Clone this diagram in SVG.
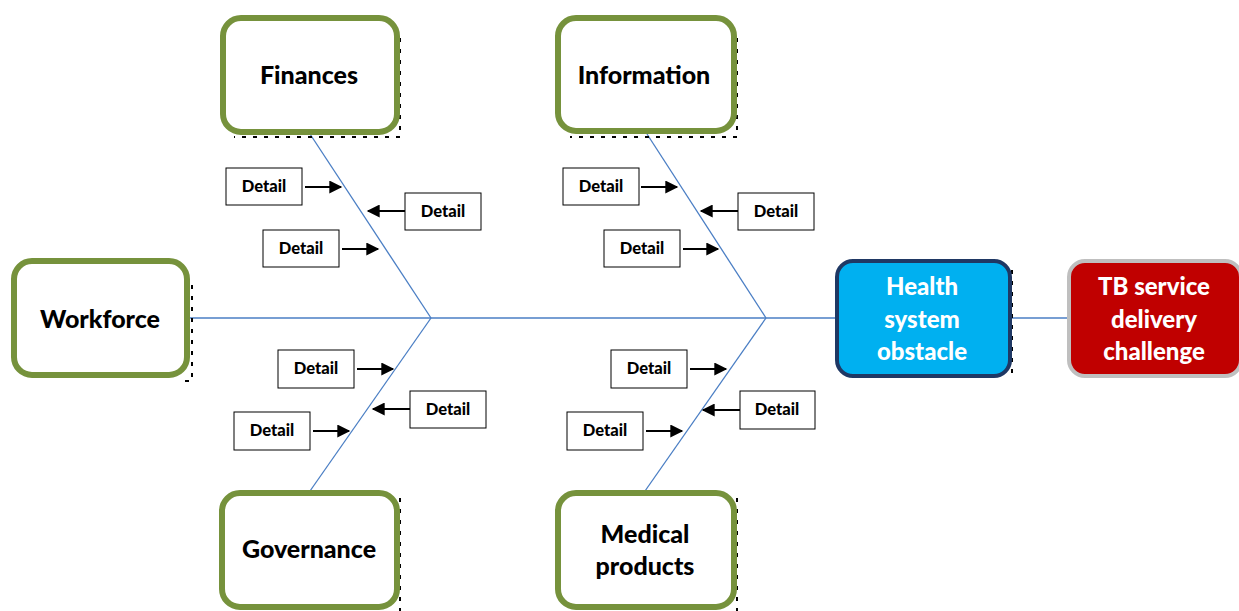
<svg xmlns="http://www.w3.org/2000/svg" width="1239" height="611" viewBox="0 0 1239 611">
  <defs>
    <marker id="arrow" viewBox="0 0 10 10" refX="9" refY="5" markerWidth="7" markerHeight="6.5" orient="auto" markerUnits="strokeWidth">
      <path d="M0,0 L10,5 L0,10 z" fill="#000"/>
    </marker>
    <style>
      .cat { fill: #fff; stroke: #76923C; stroke-width: 6; }
      .handles { fill: none; stroke: #000; stroke-width: 2; stroke-dasharray: 4 7; }
      .bone { stroke: #4A7EC4; stroke-width: 1.3; fill: none; }
      .det { fill: #fff; stroke: #000; stroke-width: 1; }
      .dt { font-family: Lato, "Liberation Sans", sans-serif; font-weight: 900; font-size: 16.5px; fill: #000; text-anchor: middle; }
      .ct { font-family: Lato, "Liberation Sans", sans-serif; font-weight: 900; font-size: 25px; fill: #000; text-anchor: middle; }
      .wt { font-family: Lato, "Liberation Sans", sans-serif; font-weight: 900; font-size: 24px; fill: #fff; text-anchor: middle; }
      .arr { stroke: #000; stroke-width: 2; marker-end: url(#arrow); }
    </style>
  </defs>
  <rect width="1239" height="611" fill="#fff"/>

  <!-- spine and bones -->
  <g id="connectors">
    <line class="bone" x1="190" y1="318" x2="835" y2="318"/>
    <line class="bone" x1="1010" y1="318" x2="1068" y2="318"/>
    <line class="bone" x1="310" y1="134" x2="431" y2="318"/>
    <line class="bone" x1="431" y1="318" x2="310" y2="491"/>
    <line class="bone" x1="647" y1="134" x2="766" y2="318"/>
    <line class="bone" x1="766" y1="318" x2="645" y2="491"/>
  </g>

  <!-- category nodes -->
  <g id="finances">
    <path class="handles" d="M400,38 V137 H234"/>
    <rect class="cat" x="223" y="18" width="174" height="114" rx="18"/>
    <text class="ct" x="309" y="84">Finances</text>
  </g>
  <g id="information">
    <path class="handles" d="M737,38 V137 H570"/>
    <rect class="cat" x="558" y="18" width="176" height="113" rx="18"/>
    <text class="ct" x="644" y="84">Information</text>
  </g>
  <g id="workforce">
    <path class="handles" d="M192,285 V381 H180"/>
    <rect class="cat" x="14" y="261" width="173" height="114" rx="18"/>
    <text class="ct" x="100" y="328">Workforce</text>
  </g>
  <g id="governance">
    <path class="handles" d="M400,498 V611"/>
    <rect class="cat" x="222" y="493" width="175" height="114" rx="18"/>
    <text class="ct" x="309" y="558">Governance</text>
  </g>
  <g id="medical-products">
    <path class="handles" d="M737,498 V611"/>
    <rect class="cat" x="558" y="493" width="176" height="114" rx="18"/>
    <text class="ct" x="645" y="543">Medical</text>
    <text class="ct" x="645" y="575">products</text>
  </g>

  <!-- outcome nodes -->
  <g id="health-system-obstacle">
    <path class="handles" d="M1012,270 V379"/>
    <rect x="837" y="261" width="173" height="115" rx="16" fill="#00B0F0" stroke="#1F3864" stroke-width="4"/>
    <text class="wt" x="922" y="295">Health</text>
    <text class="wt" x="922" y="328">system</text>
    <text class="wt" x="922" y="360">obstacle</text>
  </g>
  <g id="tb-service-delivery-challenge">
    <rect x="1069" y="261" width="172" height="115" rx="16" fill="#C00000" stroke="#BFBFBF" stroke-width="4"/>
    <text class="wt" x="1154" y="295">TB service</text>
    <text class="wt" x="1154" y="328">delivery</text>
    <text class="wt" x="1154" y="360">challenge</text>
  </g>

  <!-- detail boxes with their arrows -->
  <g id="finances-details">
    <rect class="det" x="226" y="168" width="76" height="37"/>
    <text class="dt" x="264" y="192">Detail</text>
    <line class="arr" x1="305" y1="187" x2="341" y2="187"/>
    <rect class="det" x="405" y="193" width="76" height="37"/>
    <text class="dt" x="443" y="217">Detail</text>
    <line class="arr" x1="405" y1="211" x2="368" y2="211"/>
    <rect class="det" x="263" y="230" width="76" height="37"/>
    <text class="dt" x="301" y="254">Detail</text>
    <line class="arr" x1="342" y1="249" x2="378" y2="249"/>
  </g>
  <g id="information-details">
    <rect class="det" x="563" y="168" width="76" height="37"/>
    <text class="dt" x="601" y="192">Detail</text>
    <line class="arr" x1="641" y1="187" x2="677" y2="187"/>
    <rect class="det" x="738" y="193" width="76" height="37"/>
    <text class="dt" x="776" y="217">Detail</text>
    <line class="arr" x1="738" y1="211" x2="701" y2="211"/>
    <rect class="det" x="604" y="230" width="76" height="37"/>
    <text class="dt" x="642" y="254">Detail</text>
    <line class="arr" x1="683" y1="249" x2="718" y2="249"/>
  </g>
  <g id="governance-details">
    <rect class="det" x="278" y="350" width="76" height="38"/>
    <text class="dt" x="316" y="374">Detail</text>
    <line class="arr" x1="357" y1="369" x2="393" y2="369"/>
    <rect class="det" x="410" y="391" width="76" height="37"/>
    <text class="dt" x="448" y="415">Detail</text>
    <line class="arr" x1="410" y1="409" x2="373" y2="409"/>
    <rect class="det" x="234" y="412" width="76" height="38"/>
    <text class="dt" x="272" y="436">Detail</text>
    <line class="arr" x1="313" y1="431" x2="349" y2="431"/>
  </g>
  <g id="medical-products-details">
    <rect class="det" x="611" y="350" width="76" height="38"/>
    <text class="dt" x="649" y="374">Detail</text>
    <line class="arr" x1="690" y1="369" x2="726" y2="369"/>
    <rect class="det" x="740" y="391" width="75" height="38"/>
    <text class="dt" x="777" y="415">Detail</text>
    <line class="arr" x1="740" y1="410" x2="703" y2="410"/>
    <rect class="det" x="567" y="412" width="76" height="38"/>
    <text class="dt" x="605" y="436">Detail</text>
    <line class="arr" x1="646" y1="431" x2="682" y2="431"/>
  </g>
</svg>
